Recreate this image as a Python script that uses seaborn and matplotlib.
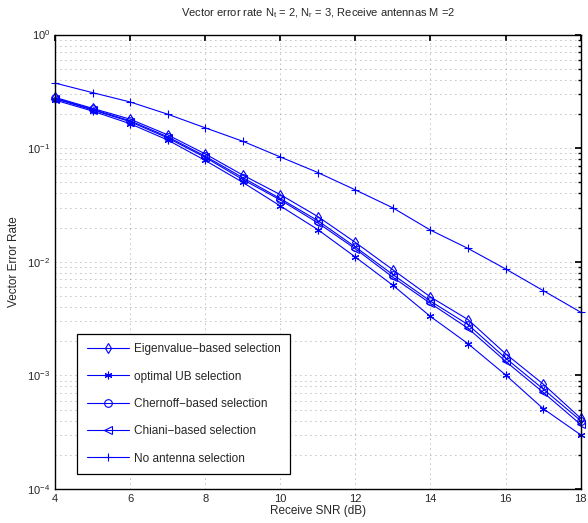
import numpy as np
import pandas as pd
import matplotlib
matplotlib.use("Agg")
import matplotlib.pyplot as plt
import seaborn as sns

# data
snr = [4, 5, 6, 7, 8, 9, 10, 11, 12, 13, 14, 15, 16, 17, 18]
eigen = [0.280, 0.224, 0.180, 0.131, 0.089, 0.058, 0.039, 0.025, 0.0148, 0.0085,
         0.0049, 0.0031, 0.00155, 0.00084, 0.00042]
optimal_ub = [0.265, 0.212, 0.164, 0.118, 0.078, 0.050, 0.031, 0.0192, 0.0110, 0.0062,
              0.0033, 0.0019, 0.00101, 0.00051, 0.00030]
chernoff = [0.275, 0.220, 0.174, 0.126, 0.085, 0.055, 0.036, 0.023, 0.0135, 0.0077,
            0.0045, 0.0028, 0.00142, 0.00076, 0.00040]
chiani = [0.272, 0.217, 0.171, 0.123, 0.083, 0.053, 0.035, 0.022, 0.0130, 0.0073,
          0.0043, 0.0026, 0.00133, 0.00071, 0.00037]
no_sel = [0.374, 0.308, 0.255, 0.199, 0.151, 0.115, 0.0837, 0.061, 0.0429, 0.0298,
          0.019, 0.0131, 0.00865, 0.00558, 0.0036]

labels = ["Eigenvalue\u2212based selection", "optimal UB selection",
          "Chernoff\u2212based selection", "Chiani\u2212based selection",
          "No antenna selection"]
series = [eigen, optimal_ub, chernoff, chiani, no_sel]
markers = ["d", (6, 2, 0), "o", "<", "+"]

sns.set_theme(style="white")
plt.rcParams["font.family"] = ["Liberation Sans", "DejaVu Sans"]
plt.rcParams["mathtext.fontset"] = "custom"
plt.rcParams["mathtext.rm"] = "Liberation Sans"
plt.rcParams["mathtext.it"] = "Liberation Sans"

fig = plt.figure(figsize=(5.88, 5.23), dpi=100)
ax = fig.add_axes([0.0935, 0.065, 0.894, 0.869])

for vals, lab, mk in zip(series, labels, markers):
    df = pd.DataFrame({"snr": snr, "ver": vals})
    sns.lineplot(data=df, x="snr", y="ver", ax=ax, color="blue", marker=mk,
                 markersize=5.5, mfc="none", mec="blue", mew=0.8, lw=0.8,
                 label=lab, clip_on=False)

ax.set_yscale("log")
ax.set_xlim(4, 18)
ax.set_ylim(1e-4, 1)
ax.set_xticks(range(4, 19, 2))

ax.grid(True, which="major", axis="both", ls=(0, (1, 5)), color="0.5", lw=0.6)
ax.grid(True, which="minor", axis="y", ls=(0, (1, 5)), color="0.5", lw=0.6)

ax.tick_params(which="both", direction="in", top=True, right=True, labelsize=8,
               color="black")
ax.tick_params(which="major", length=4)
ax.tick_params(which="minor", length=2)
for s in ax.spines.values():
    s.set_color("black")
    s.set_linewidth(1.0)

ax.set_title("Vector error rate N$_t$ = 2, N$_r$ = 3, Receive antennas M =2",
             fontsize=8, pad=13)
ax.set_xlabel("Receive SNR (dB)", fontsize=8.5, labelpad=1)
ax.set_ylabel("Vector Error Rate", fontsize=8.5, labelpad=5)

leg = ax.legend(loc="lower left", bbox_to_anchor=(0.042, 0.033), fontsize=8.5,
                frameon=True, fancybox=False, framealpha=1, edgecolor="black",
                handlelength=3.6, labelspacing=1.3, borderpad=0.8,
                handletextpad=0.4, borderaxespad=0)
leg.get_frame().set_linewidth(0.9)

fig.savefig("out.png", dpi=100)
